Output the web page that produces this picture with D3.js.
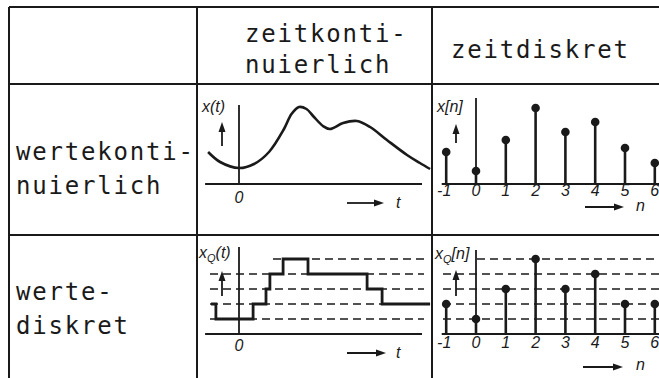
<!DOCTYPE html>
<html>
<head>
<meta charset="utf-8">
<script src="https://cdn.jsdelivr.net/npm/d3@7"></script>
<style>
  html, body { margin: 0; padding: 0; background: #fff; }
  svg { display: block; }
  .cell-text { font-family: "DejaVu Sans Mono", monospace; font-size: 24px; letter-spacing: 1.8px; fill: #1a1a1a; }
  .lbl { font-family: "Liberation Sans", Arial, sans-serif; font-style: italic; font-size: 16px; fill: #1a1a1a; }
</style>
</head>
<body>
<div id="chart"></div>
<script>
// ---- Daten ----
// zeitkontinuierlich / wertekontinuierlich: x(t)
const tCont = [-1.03, -0.63, 0, 0.5, 1, 1.5, 1.75, 2.0, 2.25, 2.5, 2.8, 3.03, 3.47, 3.93, 4.37, 4.93, 5.6, 6.03, 6.37];
const xCont = [1.6, 1.1, 0.8, 1.0, 1.6, 2.75, 3.5, 3.85, 3.75, 3.35, 2.9, 2.75, 3.05, 3.15, 2.85, 2.2, 1.45, 1.05, 0.75];

// zeitdiskret / wertekontinuierlich: x[n]
const nIdx = [-1, 0, 1, 2, 3, 4, 5, 6];
const xDisc = [1.6, 0.65, 2.2, 3.8, 2.6, 3.1, 1.8, 1.05];

// zeitkontinuierlich / wertediskret: xQ(t), Treppenfunktion
const tQ = [-0.93, -0.77, 0.47, 0.9, 1.03, 1.47, 2.3, 4.27, 4.77, 6.37];
const levelQ = [2, 1, 2, 3, 4, 5, 4, 3, 2, 2];

// zeitdiskret / wertediskret: xQ[n]
const xQDisc = [2, 1, 3, 5, 3, 4, 2, 2];

const quantLevels = [1, 2, 3, 4, 5];
const nTickLabels = ["-1", "0", "1", "2", "3", "4", "5", "6"];
const colLabels = [["zeitkonti-", "nuierlich"], ["zeitdiskret"]];
const rowLabels = [["wertekonti-", "nuierlich"], ["werte-", "diskret"]];

// ---- Layout ----
const W = 659, Hh = 378;
const ink = "#1a1a1a";
const svg = d3.select("#chart").append("svg").attr("width", W).attr("height", Hh);

// Tabellenraster
const colX = [9, 197, 432];
const rowY = [7, 84, 235];
const grid = svg.append("g").attr("stroke", ink).attr("stroke-width", 2);
rowY.forEach(y => grid.append("line").attr("x1", colX[0]).attr("x2", W + 5).attr("y1", y).attr("y2", y));
colX.forEach(x => grid.append("line").attr("x1", x).attr("x2", x).attr("y1", rowY[0]).attr("y2", Hh + 5));

// Beschriftung der Tabelle
const txt = svg.append("g").attr("class", "cell-text");
txt.append("text").attr("x", 245).attr("y", 42).text(colLabels[0][0]);
txt.append("text").attr("x", 245).attr("y", 73).text(colLabels[0][1]);
txt.append("text").attr("x", 451).attr("y", 58).text(colLabels[1][0]);
txt.append("text").attr("x", 16).attr("y", 160).text(rowLabels[0][0]);
txt.append("text").attr("x", 16).attr("y", 194).text(rowLabels[0][1]);
txt.append("text").attr("x", 16).attr("y", 300).text(rowLabels[1][0]);
txt.append("text").attr("x", 16).attr("y", 334).text(rowLabels[1][1]);

// Skalen
const xT = d3.scaleLinear().domain([0, 1]).range([239, 269]);
const xN = d3.scaleLinear().domain([0, 1]).range([476, 505.8]);
const yTop = d3.scaleLinear().domain([0, 1]).range([184, 164]);
const yBot = d3.scaleLinear().domain([0, 1]).range([334, 319]);

// Hilfen: Pfeile
function arrowRight(g, x0, x1, y) {
  g.append("line").attr("x1", x0).attr("x2", x1 - 6).attr("y1", y).attr("y2", y)
    .attr("stroke", ink).attr("stroke-width", 1.8);
  g.append("path").attr("d", `M${x1},${y} L${x1 - 10},${y - 3.5} L${x1 - 10},${y + 3.5} Z`).attr("fill", ink);
}
function arrowUp(g, x, y0, y1) {
  g.append("line").attr("x1", x).attr("x2", x).attr("y1", y0).attr("y2", y1 + 6)
    .attr("stroke", ink).attr("stroke-width", 1.8);
  g.append("path").attr("d", `M${x},${y1} L${x - 3.5},${y1 + 10} L${x + 3.5},${y1 + 10} Z`).attr("fill", ink);
}
function hline(g, x0, x1, y, w) {
  g.append("line").attr("x1", x0).attr("x2", x1).attr("y1", y).attr("y2", y)
    .attr("stroke", ink).attr("stroke-width", w || 2);
}
function vline(g, x, y0, y1, w) {
  g.append("line").attr("x1", x).attr("x2", x).attr("y1", y0).attr("y2", y1)
    .attr("stroke", ink).attr("stroke-width", w || 1.8);
}

// ---- Zelle 1: x(t) ----
const g1 = svg.append("g");
hline(g1, xT(-1.13), xT(6.1), yTop(0), 2);
vline(g1, xT(0), 105, yTop(0));
g1.append("path")
  .datum(tCont.map((t, i) => [t, xCont[i]]))
  .attr("d", d3.line().x(d => xT(d[0])).y(d => yTop(d[1])).curve(d3.curveCatmullRom.alpha(0.5)))
  .attr("fill", "none").attr("stroke", ink).attr("stroke-width", 2.6);
g1.append("text").attr("class", "lbl").attr("x", 202).attr("y", 112).text("x(t)");
arrowUp(g1, 222, 146, 122);
g1.append("text").attr("class", "lbl").attr("x", xT(0)).attr("y", 203).attr("text-anchor", "middle").text("0");
arrowRight(g1, 347, 384, 203);
g1.append("text").attr("class", "lbl").attr("x", 396).attr("y", 208).text("t");

// ---- Zelle 2: x[n] ----
const g2 = svg.append("g");
hline(g2, xN(-1.15), W + 5, yTop(0), 2);
vline(g2, xN(0), 98, yTop(0));
g2.selectAll(".stem").data(nIdx).join("line")
  .attr("x1", n => xN(n)).attr("x2", n => xN(n))
  .attr("y1", yTop(0)).attr("y2", (n, i) => yTop(xDisc[i]))
  .attr("stroke", ink).attr("stroke-width", 2.6);
g2.selectAll(".dot").data(nIdx).join("circle")
  .attr("cx", n => xN(n)).attr("cy", (n, i) => yTop(xDisc[i])).attr("r", 4.3).attr("fill", ink);
g2.selectAll(".tick").data(nIdx).join("text").attr("class", "lbl")
  .attr("x", n => xN(n) - (n < 0 ? 2 : 0)).attr("y", 196).attr("text-anchor", "middle")
  .text((n, i) => nTickLabels[i]);
g2.append("text").attr("class", "lbl").attr("x", 437).attr("y", 112).text("x[n]");
arrowUp(g2, 456, 143, 124);
arrowRight(g2, 585, 624, 207);
g2.append("text").attr("class", "lbl").attr("x", 636).attr("y", 211).text("n");

// ---- Zelle 3: xQ(t) ----
const g3 = svg.append("g");
g3.selectAll(".lev").data(quantLevels).join("line")
  .attr("x1", l => l === 5 ? 273 : 210).attr("x2", 424)
  .attr("y1", l => yBot(l)).attr("y2", l => yBot(l))
  .attr("stroke", ink).attr("stroke-width", 1.4).attr("stroke-dasharray", "8,5");
hline(g3, xT(-1.13), xT(6.1), yBot(0), 2);
vline(g3, xT(0), 247, yBot(0));
g3.append("path")
  .datum(tQ.map((t, i) => [t, levelQ[i]]))
  .attr("d", d3.line().x(d => xT(d[0])).y(d => yBot(d[1])).curve(d3.curveStepAfter))
  .attr("fill", "none").attr("stroke", ink).attr("stroke-width", 2.8);
const l3 = g3.append("text").attr("class", "lbl").attr("x", 199).attr("y", 258);
l3.append("tspan").text("x");
l3.append("tspan").attr("dy", 4).style("font-size", "11px").text("Q");
l3.append("tspan").attr("dy", -4).text("(t)");
arrowUp(g3, 222, 296, 271);
g3.append("text").attr("class", "lbl").attr("x", xT(0)).attr("y", 351).attr("text-anchor", "middle").text("0");
arrowRight(g3, 347, 386, 353);
g3.append("text").attr("class", "lbl").attr("x", 396).attr("y", 358).text("t");

// ---- Zelle 4: xQ[n] ----
const g4 = svg.append("g");
g4.selectAll(".lev").data(quantLevels).join("line")
  .attr("x1", l => l === 5 ? 477 : 443).attr("x2", W + 5)
  .attr("y1", l => yBot(l)).attr("y2", l => yBot(l))
  .attr("stroke", ink).attr("stroke-width", 1.4).attr("stroke-dasharray", "8,5");
hline(g4, xN(-1.15), W + 5, yBot(0), 2);
vline(g4, xN(0), 250, yBot(0));
g4.selectAll(".stem").data(nIdx).join("line")
  .attr("x1", n => xN(n)).attr("x2", n => xN(n))
  .attr("y1", yBot(0)).attr("y2", (n, i) => yBot(xQDisc[i]))
  .attr("stroke", ink).attr("stroke-width", 2.6);
g4.selectAll(".dot").data(nIdx).join("circle")
  .attr("cx", n => xN(n)).attr("cy", (n, i) => yBot(xQDisc[i])).attr("r", 4.3).attr("fill", ink);
g4.selectAll(".tick").data(nIdx).join("text").attr("class", "lbl")
  .attr("x", n => xN(n) - (n < 0 ? 2 : 0)).attr("y", 348).attr("text-anchor", "middle")
  .text((n, i) => nTickLabels[i]);
const l4 = g4.append("text").attr("class", "lbl").attr("x", 435).attr("y", 259);
l4.append("tspan").text("x");
l4.append("tspan").attr("dy", 4).style("font-size", "11px").text("Q");
l4.append("tspan").attr("dy", -4).text("[n]");
arrowUp(g4, 456, 296, 270);
arrowRight(g4, 583, 623, 367);
g4.append("text").attr("class", "lbl").attr("x", 636).attr("y", 370).text("n");
</script>
</body>
</html>
